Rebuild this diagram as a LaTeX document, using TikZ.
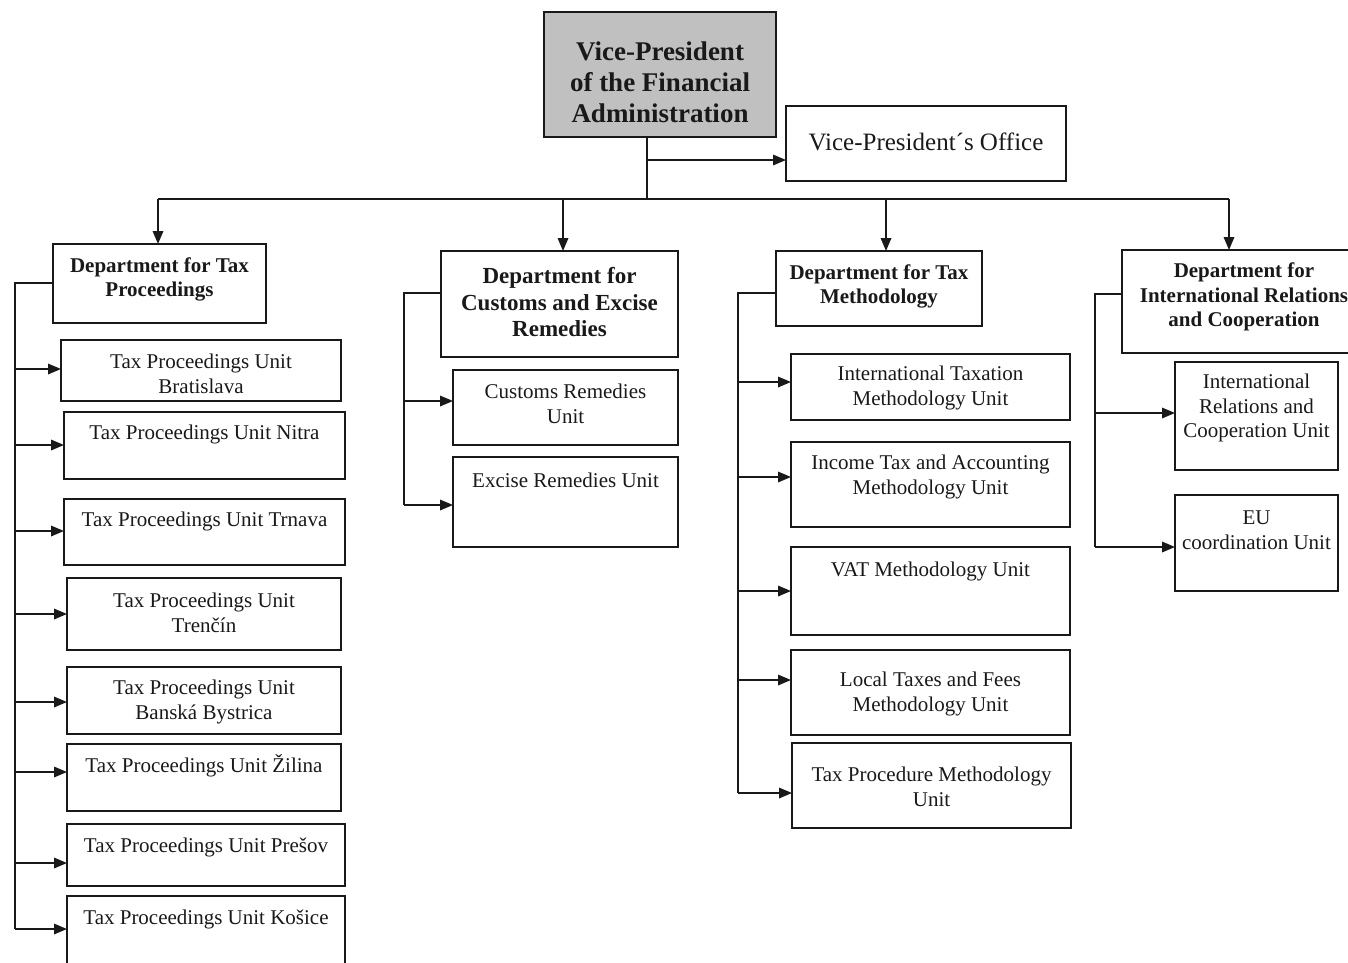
\documentclass[tikz,border=0pt]{standalone}
\usepackage{fontspec}
\setmainfont{Liberation Serif}
\usetikzlibrary{arrows.meta}
\definecolor{vpgray}{RGB}{192,192,192}
\definecolor{ink}{RGB}{25,25,25}
\newcommand\obox[8][tx]{%
  \node[bx,minimum width={#5-#3},minimum height={#6-#4}] (#2) at ({(#3+#5)/2},{(#4+#6)/2}) {};
  \node[#1] (#2t) at ({(#3+#5)/2},#7) {#8};}
\begin{document}
\begin{tikzpicture}[x=1pt,y=-1pt,
  bx/.style={draw=ink,line width=1.7pt,inner sep=0pt,outer sep=0pt},
  tx/.style={align=center,inner sep=0pt,yshift=-2pt,text=ink,font=\fontsize{21}{24.5}\selectfont},
  bt/.style={tx,font=\bfseries\fontsize{21}{24.5}\selectfont},
  btl/.style={tx,font=\bfseries\fontsize{23}{26.5}\selectfont},
  vpt/.style={tx,yshift=1pt,font=\bfseries\fontsize{27}{31}\selectfont},
  oft/.style={tx,font=\fontsize{25}{29}\selectfont},
  conn/.style={draw=ink,line width=1.7pt},
  arr/.style={conn,-{Triangle[length=13pt,width=10.5pt]}}]
\useasboundingbox (0,0) rectangle (1348,962);

% top level
\node[bx,fill=vpgray,minimum width=232,minimum height=125] (vp) at (660,74.5) {};
\node[vpt] (vpt) at (660,81) {Vice-President\\of the Financial\\Administration};
\obox[oft]{of}{786}{106}{1066}{181}{140}{Vice-President´s Office}

% departments
\obox[bt]{d1}{53}{244}{266}{323}{277.5}{Department for Tax\\Proceedings}
\obox[btl]{d2}{441}{251}{678}{357}{300.5}{Department for\\Customs and Excise\\Remedies}
\obox[bt]{d3}{776}{251}{982}{326}{284.5}{Department for Tax\\Methodology}
\obox[bt]{d4}{1122}{250}{1366}{353}{295}{Department for\\International Relations\\and Cooperation}

% units of d1
\obox{u1}{61}{340}{341}{401}{372}{Tax Proceedings Unit\\Bratislava}
\obox{u2}{64}{412}{345}{479}{432}{Tax Proceedings Unit Nitra}
\obox{u3}{64}{499}{345}{565}{519}{Tax Proceedings Unit Trnava}
\obox{u4}{67}{578}{341}{650}{611}{Tax Proceedings Unit\\Trenčín}
\obox{u5}{67}{667}{341}{734}{700}{Tax Proceedings Unit\\Banská Bystrica}
\obox{u6}{67}{744}{341}{811}{764}{Tax Proceedings Unit Žilina}
\obox{u7}{67}{824}{345}{886}{845}{Tax Proceedings Unit Prešov}
\obox{u8}{67}{896}{345}{975}{917}{Tax Proceedings Unit Košice}

% units of d2
\obox{c1}{453}{370}{678}{445}{402}{Customs Remedies\\Unit}
\obox{c2}{453}{457}{678}{547}{478}{Excise Remedies Unit}

% units of d3
\obox{m1}{791}{354}{1070}{420}{386}{International Taxation\\Methodology Unit}
\obox{m2}{791}{442}{1070}{527}{475}{Income Tax and Accounting\\Methodology Unit}
\obox{m3}{791}{547}{1070}{635}{569}{VAT Methodology Unit}
\obox{m4}{791}{650}{1070}{735}{692}{Local Taxes and Fees\\Methodology Unit}
\obox{m5}{792}{743}{1071}{828}{785}{Tax Procedure Methodology\\Unit}

% units of d4
\obox{r1}{1175}{362}{1338}{470}{406}{International\\Relations and\\Cooperation Unit}
\obox{r2}{1175}{495}{1338}{591}{528}{EU\\coordination Unit}

% top connectors
\coordinate (vpj) at (647,199);
\coordinate (oj) at (647,160);
\draw[conn] (vpj |- vp.south) -- (vpj);
\draw[arr] (oj) -- (oj -| of.west);
\coordinate (j1) at (158,199);
\coordinate (j2) at (563,199);
\coordinate (j3) at (886,199);
\coordinate (j4) at (1229,199);
\draw[conn] (j1) -- (j4);
\draw[arr] (j1) -- (j1 |- d1.north);
\draw[arr] (j2) -- (j2 |- d2.north);
\draw[arr] (j3) -- (j3 |- d3.north);
\draw[arr] (j4) -- (j4 |- d4.north);

% trunk d1
\coordinate (t1) at (15,283);
\foreach \n/\s in {u1/1.5,u2/0.5,u3/1,u4/0,u5/-1.5,u6/5.5,u7/-8,u8/6.5}
  \coordinate (a\n) at ([yshift=\s pt]\n.west);
\draw[conn] (t1 -| d1.west) -- (t1) -- (t1 |- au8);
\foreach \n in {u1,u2,u3,u4,u5,u6,u7,u8}
  \draw[arr] (t1 |- a\n) -- (a\n);

% trunk d2
\coordinate (t2) at (404,293);
\coordinate (ac1) at ([yshift=6.5pt]c1.west);
\coordinate (ac2) at ([yshift=-3pt]c2.west);
\draw[conn] (t2 -| d2.west) -- (t2) -- (t2 |- ac2);
\draw[arr] (t2 |- ac1) -- (ac1);
\draw[arr] (t2 |- ac2) -- (ac2);

% trunk d3
\coordinate (t3) at (738,293);
\foreach \n/\s in {m1/5,m2/7.5,m3/0,m4/12.5,m5/-7.5}
  \coordinate (a\n) at ([yshift=\s pt]\n.west);
\draw[conn] (t3 -| d3.west) -- (t3) -- (t3 |- am5);
\foreach \n in {m1,m2,m3,m4,m5}
  \draw[arr] (t3 |- a\n) -- (a\n);

% trunk d4
\coordinate (t4) at (1095,294);
\coordinate (ar1) at ([yshift=3pt]r1.west);
\coordinate (ar2) at ([yshift=-4pt]r2.west);
\draw[conn] (t4 -| d4.west) -- (t4) -- (t4 |- ar2);
\draw[arr] (t4 |- ar1) -- (ar1);
\draw[arr] (t4 |- ar2) -- (ar2);
\end{tikzpicture}
\end{document}
